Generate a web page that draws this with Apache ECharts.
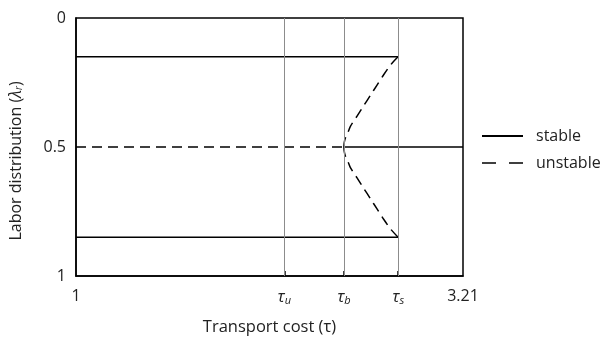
<!DOCTYPE html>
<html>
<head>
<meta charset="utf-8">
<script src="https://cdn.jsdelivr.net/npm/echarts@6/dist/echarts.min.js"></script>
<style>
  html, body { margin: 0; padding: 0; background: #fff; }
  #chart { width: 610px; height: 343px; }
</style>
</head>
<body>
<div id="chart"></div>
<script>
// Transport cost range and critical thresholds
const tauMin = 1;
const tauMax = 3.21;
const tauU = 2.19;   // τ_u
const tauB = 2.53;   // τ_b (break point)
const tauS = 2.84;   // τ_s (sustain point)

// Labor distribution levels
const lambdaLow = 0.15;
const lambdaMid = 0.5;
const lambdaHigh = 0.85;

// Unstable branches leaving the symmetric equilibrium at τ_b
const upperBranchTau    = [2.530, 2.5315, 2.536, 2.544, 2.555, 2.567, 2.605, 2.643, 2.681, 2.719, 2.757, 2.799, 2.840];
const upperBranchLambda = [0.50,  0.485,  0.47,  0.455, 0.44,  0.42,  0.38,  0.34,  0.30,  0.26,  0.22,  0.18,  0.15];
const lowerBranchLambda = upperBranchLambda.map(v => 1 - v);

const yTicks = [0, 0.5, 1];
const xTickValues = [tauMin, tauU, tauB, tauS, tauMax];

const pair = (xs, ys) => xs.map((x, i) => [x, ys[i]]);

const FONT = 'Open Sans';
const TEXT = '#222';
const solid = { color: '#000', width: 1.5, type: 'solid' };
const dashed = { color: '#000', width: 1.5, type: [10, 6] };

const chart = echarts.init(document.getElementById('chart'));

function tauLabel(v) {
  if (Math.abs(v - tauU) < 1e-6) return '{t|τ}{s|u}';
  if (Math.abs(v - tauB) < 1e-6) return '{t|τ}{s|b}';
  if (Math.abs(v - tauS) < 1e-6) return '{t|τ}{s|s}';
  if (Math.abs(v - tauMax) < 1e-6) return '3.21';
  if (Math.abs(v - tauMin) < 1e-6) return '1';
  return '';
}

const base = {
  type: 'line', symbol: 'none', animation: false, silent: true,
  itemStyle: { color: '#000' }
};

chart.setOption({
  animation: false,
  textStyle: { fontFamily: FONT },
  grid: {
    left: 76, right: 147, top: 18, bottom: 67,
    show: true, borderColor: '#000', borderWidth: 1.5, backgroundColor: 'transparent'
  },
  legend: {
    orient: 'vertical',
    left: 476, top: 123,
    itemWidth: 41, itemHeight: 14, itemGap: 11,
    itemStyle: { opacity: 0 },
    textStyle: { fontFamily: FONT, fontSize: 16, color: TEXT, padding: [0, 0, 0, 8] },
    data: [
      { name: 'stable' },
      { name: 'unstable', lineStyle: { type: [14, 13], width: 1.5, color: '#000' } }
    ]
  },
  xAxis: {
    type: 'value',
    min: tauMin, max: tauMax,
    name: 'Transport cost (τ)',
    nameLocation: 'middle',
    nameGap: 43,
    nameTextStyle: { fontFamily: FONT, fontSize: 16.5, color: TEXT },
    axisLine: { show: true, onZero: false, lineStyle: { color: '#000', width: 1.5 } },
    axisTick: {
      show: true, inside: true, length: 5,
      customValues: [tauU, tauB, tauS],
      lineStyle: { color: '#000', width: 1.5 }
    },
    splitLine: { show: false },
    axisLabel: {
      customValues: xTickValues,
      margin: 12,
      fontFamily: FONT, fontSize: 16, color: TEXT,
      formatter: tauLabel,
      rich: {
        t: { fontFamily: FONT, fontSize: 17, fontStyle: 'italic', color: TEXT },
        s: { fontFamily: FONT, fontSize: 11, fontStyle: 'italic', color: TEXT, verticalAlign: 'bottom', padding: [7, 0, 0, 0] }
      }
    }
  },
  yAxis: {
    type: 'value',
    inverse: true,
    min: 0, max: 1, interval: 0.5,
    name: '{n|Labor distribution (}{l|λ}{r|r}{n|)}',
    nameLocation: 'middle',
    nameGap: 52,
    nameTextStyle: {
      padding: [0, 28, 0, 0],
      rich: {
        n: { fontFamily: FONT, fontSize: 16, color: TEXT },
        l: { fontFamily: FONT, fontSize: 16, fontStyle: 'italic', color: TEXT },
        r: { fontFamily: FONT, fontSize: 10, fontStyle: 'italic', color: TEXT, verticalAlign: 'bottom', padding: [6, 0, 0, 0] }
      }
    },
    axisLine: { show: true, onZero: false, lineStyle: { color: '#000', width: 1.5 } },
    axisTick: { show: false },
    splitLine: { show: false },
    axisLabel: {
      margin: 10,
      fontFamily: FONT, fontSize: 16, color: TEXT,
      customValues: yTicks,
      formatter: v => (v === 0.5 ? '0.5' : String(v))
    }
  },
  series: [
    {
      ...base, name: 'threshold', z: 1,
      data: [],
      markLine: {
        silent: true, symbol: 'none', animation: false,
        label: { show: false },
        lineStyle: { color: '#8c8c8c', width: 1, type: 'solid' },
        data: [{ xAxis: tauU }, { xAxis: tauB }, { xAxis: tauS }]
      }
    },
    { ...base, name: 'stable', z: 3, lineStyle: solid, data: [[tauMin, lambdaLow], [tauS, lambdaLow]] },
    { ...base, name: 'stable', z: 3, lineStyle: solid, data: [[tauMin, lambdaHigh], [tauS, lambdaHigh]] },
    { ...base, name: 'stable', z: 3, lineStyle: solid, data: [[tauB, lambdaMid], [tauMax, lambdaMid]] },
    { ...base, name: 'unstable', z: 3, lineStyle: dashed, data: [[tauMin, lambdaMid], [tauB, lambdaMid]] },
    { ...base, name: 'unstable', z: 3, smooth: 0.3, lineStyle: dashed, data: pair(upperBranchTau, upperBranchLambda) },
    { ...base, name: 'unstable', z: 3, smooth: 0.3, lineStyle: dashed, data: pair(upperBranchTau, lowerBranchLambda) }
  ]
});
</script>
</body>
</html>
